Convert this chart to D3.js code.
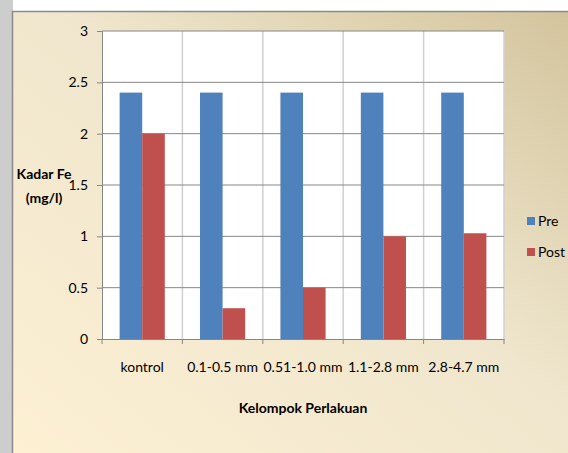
<!DOCTYPE html>
<html>
<head>
<meta charset="utf-8">
<script src="https://cdn.jsdelivr.net/npm/d3@7"></script>
<style>
  body { margin: 0; background: #fff; }
  svg { display: block; }
  text { font-family: Lato, "Open Sans", Arial, sans-serif; }
</style>
</head>
<body>
<svg width="568" height="453"></svg>
<script>
// data
const groups = ['kontrol', '0.1-0.5 mm', '0.51-1.0 mm', '1.1-2.8 mm', '2.8-4.7 mm'];
const series = ['Pre', 'Post'];
const preValues = [2.4, 2.4, 2.4, 2.4, 2.4];
const postValues = [2.0, 0.3, 0.5, 1.0, 1.03];
const yTicks = [0, 0.5, 1, 1.5, 2, 2.5, 3];
const colors = ['#4f81bd', '#c0504d'];

const svg = d3.select('svg');

// page behind the chart frame
svg.append('rect').attr('x', 0).attr('y', 0).attr('width', 13).attr('height', 453).attr('fill', '#cdcdcd');

const defs = svg.append('defs');
const grad = defs.append('linearGradient')
  .attr('id', 'bg')
  .attr('x1', 1).attr('y1', 0).attr('x2', 0).attr('y2', 1);
grad.append('stop').attr('offset', 0).attr('stop-color', '#d2c39b');
grad.append('stop').attr('offset', 0.45).attr('stop-color', '#efe6cd');
grad.append('stop').attr('offset', 1).attr('stop-color', '#fdf0d3');

svg.append('rect')
  .attr('x', 12.5).attr('y', 11.5)
  .attr('width', 570).attr('height', 450)
  .attr('fill', 'url(#bg)')
  .attr('stroke', '#8a8a8a')
  .attr('stroke-width', 1.5);

const margin = { top: 31, left: 102, right: 64, bottom: 114 };
const width = 568 - margin.left - margin.right;
const height = 453 - margin.top - margin.bottom;

const g = svg.append('g').attr('transform', `translate(${margin.left},${margin.top})`);

const x0 = d3.scaleBand().domain(groups).range([0, width]);
const x1 = d3.scaleBand().domain(series).range([0, x0.bandwidth()]).paddingOuter(0.78).paddingInner(0);
const y = d3.scaleLinear().domain([0, 3]).range([height, 0]);

// plot area
g.append('rect').attr('width', width).attr('height', height).attr('fill', '#fff');

// vertical separators
g.selectAll('.vgrid')
  .data(groups.slice(1).concat(['end']))
  .join('line')
  .attr('x1', (d, i) => x0.bandwidth() * (i + 1))
  .attr('x2', (d, i) => x0.bandwidth() * (i + 1))
  .attr('y1', 0).attr('y2', height)
  .attr('stroke', '#d0d0d0')
  .attr('stroke-width', 1.5);

// horizontal grid
g.selectAll('.hgrid')
  .data(yTicks.slice(1))
  .join('line')
  .attr('x1', 0).attr('x2', width)
  .attr('y1', d => y(d)).attr('y2', d => y(d))
  .attr('stroke', '#868686')
  .attr('stroke-width', 1);

// bars
const rows = groups.map((grp, i) => ({ grp, vals: [preValues[i], postValues[i]] }));
const grpSel = g.selectAll('.grp')
  .data(rows)
  .join('g')
  .attr('transform', d => `translate(${x0(d.grp)},0)`);

grpSel.selectAll('rect')
  .data(d => d.vals.map((v, j) => ({ key: series[j], v, j })))
  .join('rect')
  .attr('x', d => x1(d.key))
  .attr('width', x1.bandwidth())
  .attr('y', d => y(d.v))
  .attr('height', d => height - y(d.v))
  .attr('fill', d => colors[d.j]);

// axes
const yAxis = g.append('g')
  .call(d3.axisLeft(y).tickValues(yTicks).tickFormat(d3.format('')).tickSize(5).tickPadding(9));
yAxis.select('.domain').attr('stroke', '#868686');
yAxis.selectAll('.tick line').attr('stroke', '#868686');
yAxis.selectAll('text').attr('font-size', 14).attr('fill', '#000')
  .style('font-family', 'Lato, Arial, sans-serif');

const xAxis = g.append('g')
  .attr('transform', `translate(0,${height})`)
  .call(d3.axisBottom(x0).tickSize(0).tickPadding(23));
xAxis.select('.domain').attr('stroke', '#868686');
xAxis.selectAll('text').attr('font-size', 14).attr('fill', '#000')
  .style('font-family', 'Lato, Arial, sans-serif');

// tick marks between categories on x axis
g.selectAll('.xtick')
  .data(d3.range(groups.length + 1))
  .join('line')
  .attr('x1', d => d * x0.bandwidth()).attr('x2', d => d * x0.bandwidth())
  .attr('y1', height).attr('y2', height + 5)
  .attr('stroke', '#868686');

// axis titles
svg.append('text')
  .attr('x', 303).attr('y', 413)
  .attr('text-anchor', 'middle')
  .attr('font-size', 14).attr('font-weight', 'bold')
  .text('Kelompok Perlakuan');

svg.append('text')
  .attr('x', 44).attr('y', 179)
  .attr('text-anchor', 'middle')
  .attr('font-size', 14).attr('font-weight', 'bold')
  .text('Kadar Fe');
svg.append('text')
  .attr('x', 44).attr('y', 203)
  .attr('text-anchor', 'middle')
  .attr('font-size', 14).attr('font-weight', 'bold')
  .text('(mg/l)');

// legend
const legend = svg.append('g').attr('transform', 'translate(527,217)');
const items = legend.selectAll('g')
  .data(series)
  .join('g')
  .attr('transform', (d, i) => `translate(0,${i * 31})`);
items.append('rect').attr('width', 8).attr('height', 8).attr('fill', (d, i) => colors[i]);
items.append('text').attr('x', 11).attr('y', 9).attr('font-size', 14).text(d => d);
</script>
</body>
</html>
